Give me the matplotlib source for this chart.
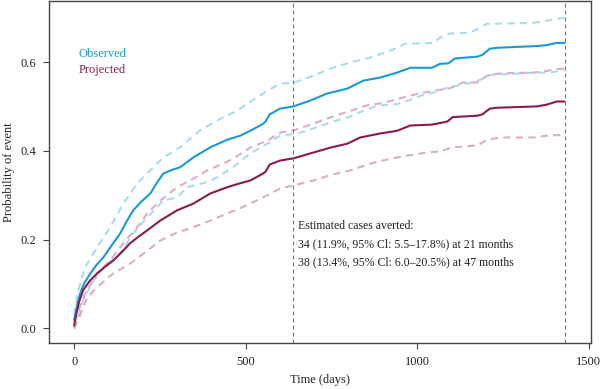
import matplotlib
matplotlib.use("Agg")
import matplotlib.pyplot as plt

plt.rcParams['font.family'] = ['Liberation Serif', 'DejaVu Serif']

# observed cumulative incidence (days, probability)
obs_t = [0, 3, 10, 17, 30, 47, 65, 85, 110, 134, 152, 172, 195, 222, 240, 260, 285, 309, 347,
         397, 446, 484, 513, 551, 558, 570, 600, 639, 688, 737, 796, 843, 892, 941, 980, 1043,
         1067, 1091, 1110, 1175, 1190, 1212, 1233, 1291, 1349, 1378, 1407, 1429]
obs_y = [0.02, 0.03, 0.058, 0.079, 0.103, 0.124, 0.143, 0.16, 0.188, 0.214, 0.24, 0.266,
         0.285, 0.304, 0.327, 0.349, 0.357, 0.363, 0.385, 0.408, 0.425, 0.434, 0.445, 0.461,
         0.466, 0.482, 0.495, 0.50, 0.513, 0.529, 0.54, 0.558, 0.565, 0.576, 0.587, 0.587,
         0.596, 0.597, 0.608, 0.612, 0.616, 0.630, 0.632, 0.634, 0.636, 0.638, 0.643, 0.643]
obs_hi_t = [0, 9, 32, 67, 105, 143, 184, 222, 260, 309, 367, 426, 475, 504, 563, 600, 639, 697,
            746, 805, 863, 921, 965, 1047, 1067, 1096, 1155, 1184, 1204, 1338, 1378, 1407, 1429]
obs_hi_y = [0.03, 0.079, 0.138, 0.183, 0.228, 0.281, 0.327, 0.356, 0.385, 0.408, 0.446, 0.472,
            0.49, 0.506, 0.535, 0.551, 0.553, 0.569, 0.585, 0.599, 0.61, 0.625, 0.641, 0.643,
            0.655, 0.664, 0.666, 0.678, 0.686, 0.688, 0.693, 0.697, 0.699]
obs_lo_t = [0, 26, 50, 85, 134, 172, 213, 260, 300, 329, 376, 417, 463, 513, 563, 600, 650, 697,
            746, 796, 843, 883, 941, 980, 1009, 1047, 1096, 1146, 1184, 1213, 1271, 1338, 1378, 1429]
obs_lo_y = [0.0, 0.064, 0.1, 0.138, 0.169, 0.214, 0.25, 0.288, 0.295, 0.318, 0.327, 0.34, 0.363,
            0.394, 0.416, 0.434, 0.439, 0.45, 0.464, 0.475, 0.49, 0.502, 0.505, 0.515, 0.524,
            0.531, 0.544, 0.551, 0.56, 0.571, 0.573, 0.576, 0.576, 0.58]

# projected cumulative incidence
prj_t = [0, 5, 15, 26, 45, 67, 90, 114, 140, 163, 188, 213, 251, 300, 347, 397, 446, 484, 513,
         551, 558, 570, 600, 639, 697, 746, 796, 834, 892, 941, 980, 1043, 1076, 1088, 1104,
         1175, 1190, 1212, 1233, 1349, 1378, 1407, 1429]
prj_y = [0.007, 0.03, 0.062, 0.086, 0.107, 0.124, 0.139, 0.153, 0.173, 0.192, 0.207, 0.221,
         0.243, 0.266, 0.281, 0.304, 0.318, 0.327, 0.333, 0.349, 0.353, 0.369, 0.378, 0.383,
         0.396, 0.407, 0.416, 0.43, 0.439, 0.445, 0.457, 0.459, 0.464, 0.466, 0.476, 0.479,
         0.482, 0.495, 0.497, 0.50, 0.504, 0.511, 0.511]
prj_hi_t = [0, 32, 67, 105, 143, 184, 213, 251, 300, 347, 388, 434, 463, 513, 563, 600, 639,
            697, 746, 805, 853, 901, 960, 999, 1047, 1096, 1134, 1175, 1204, 1222, 1271, 1338,
            1378, 1407, 1429]
prj_hi_y = [0.015, 0.079, 0.124, 0.153, 0.192, 0.228, 0.259, 0.288, 0.318, 0.337, 0.356, 0.371,
            0.382, 0.407, 0.423, 0.441, 0.446, 0.461, 0.475, 0.49, 0.502, 0.508, 0.52, 0.528,
            0.535, 0.541, 0.554, 0.554, 0.569, 0.573, 0.575, 0.576, 0.58, 0.584, 0.585]
prj_lo_t = [0, 17, 38, 67, 114, 163, 213, 251, 300, 347, 397, 446, 475, 513, 563, 600, 639, 697,
            746, 805, 863, 921, 970, 1009, 1067, 1105, 1175, 1204, 1242, 1338, 1378, 1429]
prj_lo_y = [0.0, 0.03, 0.07, 0.093, 0.124, 0.146, 0.175, 0.198, 0.216, 0.228, 0.243, 0.259,
            0.268, 0.281, 0.3, 0.315, 0.322, 0.333, 0.345, 0.356, 0.371, 0.382, 0.389, 0.394,
            0.399, 0.408, 0.412, 0.425, 0.43, 0.43, 0.434, 0.436]

cutoffs = [639, 1431]
xticks = [0, 500, 1000, 1500]
yticks = [0.0, 0.2, 0.4, 0.6]
note = ["Estimated cases averted:",
        "34 (11.9%, 95% Cl: 5.5\u201317.8%) at 21 months",
        "38 (13.4%, 95% Cl: 6.0\u201320.5%) at 47 months"]

c_obs = "#1a9ad6"
c_obs_ci = "#a9dcf1"
c_prj = "#8b1a4f"
c_prj_ci = "#dbaec5"

fig = plt.figure(figsize=(6, 3.89), dpi=100)
ax = fig.add_axes([0.082, 0.118, 0.903, 0.879])

dash = (3.5, 2.5)
ax.plot(obs_hi_t, obs_hi_y, color=c_obs_ci, lw=1.5, dashes=dash)
ax.plot(obs_lo_t, obs_lo_y, color=c_obs_ci, lw=1.5, dashes=dash)
ax.plot(prj_hi_t, prj_hi_y, color=c_prj_ci, lw=1.5, dashes=dash)
ax.plot(prj_lo_t, prj_lo_y, color=c_prj_ci, lw=1.5, dashes=dash)
ax.plot(obs_t, obs_y, color=c_obs, lw=1.5)
ax.plot(prj_t, prj_y, color=c_prj, lw=1.5)

for c in cutoffs:
    ax.axvline(c, color="#777777", lw=0.8, dashes=(3.6, 2.7))

ax.text(12, 0.619, "Observed", color=c_obs, fontsize=9, va="center")
ax.text(12, 0.581, "Projected", color=c_prj, fontsize=9, va="center")

for i, line in enumerate(note):
    ax.text(653, 0.23 - i * 0.0405, line, fontsize=8.5, va="center", color="#222222")

ax.set_xlim(-73, 1507)
ax.set_ylim(-0.033, 0.737)
ax.set_xticks(xticks)
ax.set_xticklabels([str(v) for v in xticks])
ax.set_yticks(yticks)
ax.set_yticklabels(["%.1f" % v for v in yticks])
ax.tick_params(direction="out", length=4, width=0.8, colors="#444444", labelsize=9,
               labelcolor="#222222", pad=5)
for s in ax.spines.values():
    s.set_color("#444444")
    s.set_linewidth(1.0)

# axis titles placed in figure pixels to match the reference
fig.text(320 / 600, 1 - 380 / 389, "Time (days)", fontsize=9, color="#222222",
         ha="center", va="center")
fig.text(9 / 600, 1 - 172 / 389, "Probability of event", fontsize=9, color="#222222",
         ha="center", va="center", rotation=90)

fig.savefig("out.png", dpi=100)
